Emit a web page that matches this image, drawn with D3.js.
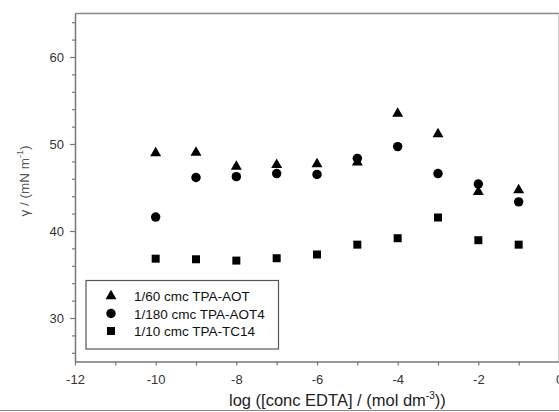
<!DOCTYPE html>
<html><head><meta charset="utf-8">
<script src="https://cdn.jsdelivr.net/npm/d3@7"></script>
<style>body{margin:0;background:#fff}svg{display:block}text{font-family:"Liberation Sans",Arial,sans-serif}</style>
</head><body>
<svg id="c" width="559" height="412"></svg>
<script>
const xValues = [-10,-9,-8,-7,-6,-5,-4,-3,-2,-1];
const aotValues = [48.95,49.0,47.4,47.6,47.7,47.9,53.5,51.15,44.5,44.7];
const aot4Values = [41.6,46.15,46.25,46.6,46.5,48.35,49.7,46.6,45.4,43.35];
const tc14Values = [36.82,36.75,36.6,36.87,37.3,38.43,39.17,41.55,38.94,38.43];
const seriesNames = ["1/60 cmc TPA-AOT","1/180 cmc TPA-AOT4","1/10 cmc TPA-TC14"];
const xTicks = [-12,-10,-8,-6,-4,-2,0];
const yTicks = [30,40,50,60];

const svg = d3.select("#c");
const x = d3.scaleLinear().domain([-12,0]).range([75,559]);
const y = d3.scaleLinear().domain([25,65]).range([361.5,13.5]);
const axisColor = "#777";

// frame
svg.append("line").attr("x1",75).attr("x2",559).attr("y1",y(65)).attr("y2",y(65)).attr("stroke","#888").attr("stroke-width",1.5);
svg.append("line").attr("x1",558.5).attr("x2",558.5).attr("y1",y(65)).attr("y2",y(25)).attr("stroke","#ccc").attr("stroke-width",1);
// bottom image border line
svg.append("line").attr("x1",0).attr("x2",559).attr("y1",410.5).attr("y2",410.5).attr("stroke","#888").attr("stroke-width",1.2);

// y axis
svg.append("g").attr("transform","translate(75,0)")
  .call(d3.axisLeft(y).tickValues(yTicks).tickSize(5).tickSizeOuter(0).tickPadding(6).tickFormat(d3.format("d")));
svg.append("g").attr("transform","translate(75,0)")
  .call(d3.axisLeft(y).tickValues(d3.range(26,65,2).filter(v=>v%10!==0)).tickSize(3).tickSizeOuter(0).tickFormat(""))
  .call(g=>g.select(".domain").remove());
// x axis
const xAxis = svg.append("g").attr("transform",`translate(0,${y(25)})`)
  .call(d3.axisBottom(x).tickValues(xTicks).tickSize(4).tickSizeOuter(0).tickPadding(9).tickFormat(d3.format("d")));
svg.append("g").attr("transform",`translate(0,${y(25)})`)
  .call(d3.axisBottom(x).tickValues([-11,-9,-7,-5,-3,-1]).tickSize(4).tickSizeOuter(0).tickFormat(""))
  .call(g=>g.select(".domain").remove());
svg.selectAll(".domain").attr("stroke",axisColor).attr("stroke-width",1.5);
svg.selectAll(".tick line").attr("stroke",axisColor).attr("stroke-width",1.2);
svg.selectAll(".tick text").attr("font-size",13).attr("fill","#333").attr("font-family","Liberation Sans, Arial, sans-serif");
xAxis.selectAll(".tick text").text(d=>String(d).replace("\u2212","-"));

// labels
const yl = svg.append("text").attr("transform","translate(29,181) rotate(-90)").attr("text-anchor","middle")
  .attr("font-size",13.5).attr("fill","#555");
yl.append("tspan").text("γ / (mN m");
yl.append("tspan").attr("font-size",9).attr("dy",-6).text("-1");
yl.append("tspan").attr("dy",6).text(")");
const xl = svg.append("text").attr("x",229).attr("y",406).attr("font-size",16.5).attr("fill","#222");
xl.append("tspan").text("log ([conc EDTA] / (mol dm");
xl.append("tspan").attr("font-size",10).attr("dy",-7).text("-3");
xl.append("tspan").attr("dy",7).text("))");

// markers
const tri = d3.symbol().type(d3.symbolTriangle).size(52);
const circ = d3.symbol().type(d3.symbolCircle).size(70);
const sq = d3.symbol().type(d3.symbolSquare).size(64);
const series = [aotValues, aot4Values, tc14Values];
const syms = [tri, circ, sq];
series.forEach((vals,i)=>{
  svg.append("g").selectAll("path").data(vals).join("path")
    .attr("transform",(d,j)=>`translate(${x(xValues[j])},${y(d)})`)
    .attr("d",syms[i]()).attr("fill","#000");
});

// legend
const lg = svg.append("g");
lg.append("rect").attr("x",86).attr("y",280.5).attr("width",192.5).attr("height",68.5)
  .attr("fill","#fff").attr("stroke","#555").attr("stroke-width",1.2);
const lgY = [296,313.5,331];
seriesNames.forEach((n,i)=>{
  lg.append("path").attr("transform",`translate(111,${lgY[i]})`).attr("d",syms[i]()).attr("fill","#000");
  lg.append("text").attr("x",134).attr("y",lgY[i]+5).attr("font-size",13.5).attr("fill","#111").text(n);
});
</script>
</body></html>
